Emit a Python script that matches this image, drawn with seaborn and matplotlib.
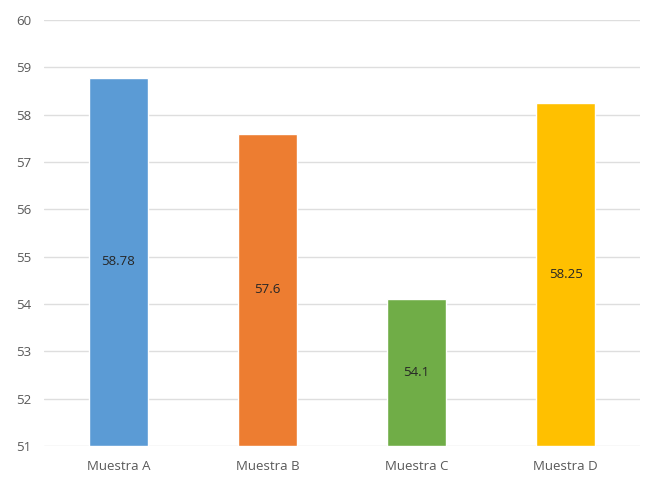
import matplotlib
matplotlib.use("Agg")
import matplotlib.pyplot as plt
import seaborn as sns
import pandas as pd

categories = ["Muestra A", "Muestra B", "Muestra C", "Muestra D"]
values = [58.78, 57.6, 54.1, 58.25]
labels = ["58.78", "57.6", "54.1", "58.25"]
colors = ["#5B9BD5", "#ED7D31", "#70AD47", "#FFC000"]
yticks = [51, 52, 53, 54, 55, 56, 57, 58, 59, 60]

sns.set_style("white")
plt.rcParams["font.family"] = ["Open Sans", "DejaVu Sans"]

df = pd.DataFrame({"cat": categories, "val": values})
fig = plt.figure(figsize=(6.46, 4.78), dpi=100)
ax = fig.add_axes([0.068, 0.067, 0.923, 0.891])
sns.barplot(data=df, x="cat", y="val", hue="cat", palette=colors, width=0.4,
            legend=False, ax=ax, saturation=1, zorder=2)
# bars start at 51: adjust bottoms
for p in ax.patches:
    h = p.get_height()
    p.set_y(51)
    p.set_height(h - 51)

ax.set_ylim(51, 60)
ax.set_xlim(-0.5, 3.5)
ax.set_yticks(yticks)
ax.yaxis.grid(True, color="#DEDEDE", linewidth=1, zorder=0)
ax.set_axisbelow(True)
for s in ax.spines.values():
    s.set_visible(False)
ax.set_xlabel("")
ax.set_ylabel("")
ax.tick_params(axis="both", length=0, labelsize=9.5, colors="#595959", pad=9)
ax.tick_params(axis="x", pad=10)

for i, (v, lab) in enumerate(zip(values, labels)):
    ax.text(i, (51 + v) / 2, lab, ha="center", va="center", fontsize=9.5, color="#262626", zorder=3)

fig.savefig("out.png", dpi=100)
